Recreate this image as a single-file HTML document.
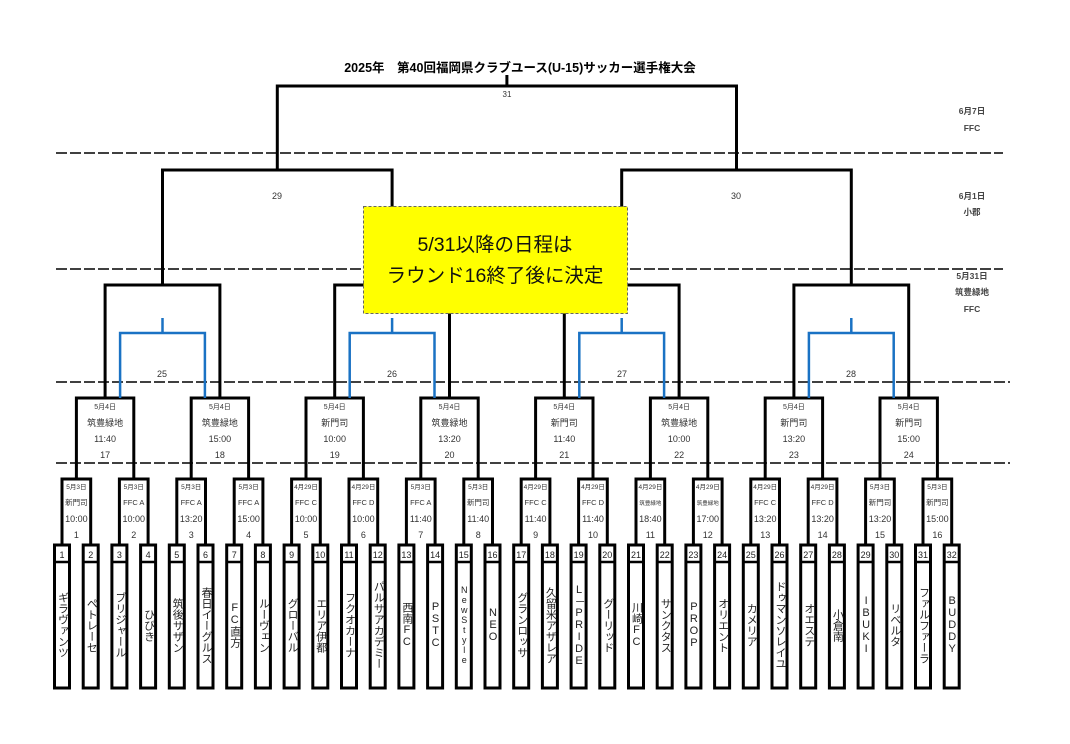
<!DOCTYPE html>
<html><head><meta charset="utf-8">
<style>
body{margin:0;background:#fff;}
#w{position:relative;width:1070px;height:744px;overflow:hidden;font-family:"Liberation Sans","Noto Sans CJK JP",sans-serif;}
svg{position:absolute;left:0;top:0;}
.n{position:absolute;top:564px;width:15px;height:122px;display:flex;flex-direction:column;justify-content:center;align-items:center;overflow:hidden;}
.n span{writing-mode:vertical-rl;text-orientation:upright;font-size:11px;line-height:15px;color:#222;white-space:nowrap;}
</style></head><body><div id="w">
<svg width="1070" height="744" font-family="Liberation Sans, Noto Sans CJK JP, sans-serif">
<g stroke="#000" stroke-width="1.6" stroke-dasharray="11 3">
<line x1="56" y1="153" x2="1003" y2="153"/>
<line x1="56" y1="269" x2="1003" y2="269"/>
<line x1="56" y1="382" x2="1010" y2="382"/>
<line x1="56" y1="463" x2="1010" y2="463"/>
</g>
<text x="520" y="72" font-size="12.5" font-weight="bold" text-anchor="middle">2025年　第40回福岡県クラブユース(U-15)サッカー選手権大会</text>
<g fill="none" stroke="#000" stroke-width="3">
<path d="M506.9 75V86"/>
<path d="M277.3 170V86H736.5V170"/>
<path d="M162.5 285V170H392.1V285"/>
<path d="M621.7 285V170H851.3V285"/>
<path d="M105.1 398V285H219.9V398"/>
<path d="M334.7 398V285H449.5V398"/>
<path d="M564.3 398V285H679.1V398"/>
<path d="M793.9 398V285H908.7V398"/>
<path d="M76.4 479V398H133.8V479"/>
<path d="M191.2 479V398H248.6V479"/>
<path d="M306.0 479V398H363.4V479"/>
<path d="M420.8 479V398H478.2V479"/>
<path d="M535.6 479V398H593.0V479"/>
<path d="M650.4 479V398H707.8V479"/>
<path d="M765.2 479V398H822.6V479"/>
<path d="M880.0 479V398H937.4V479"/>
<path d="M62 545V479H90.7V545"/>
<path d="M119.4 545V479H148.1V545"/>
<path d="M176.8 545V479H205.5V545"/>
<path d="M234.2 545V479H262.9V545"/>
<path d="M291.6 545V479H320.3V545"/>
<path d="M349 545V479H377.7V545"/>
<path d="M406.4 545V479H435.1V545"/>
<path d="M463.8 545V479H492.5V545"/>
<path d="M521.2 545V479H549.9V545"/>
<path d="M578.6 545V479H607.3V545"/>
<path d="M636 545V479H664.7V545"/>
<path d="M693.4 545V479H722.1V545"/>
<path d="M750.8 545V479H779.5V545"/>
<path d="M808.2 545V479H836.9V545"/>
<path d="M865.6 545V479H894.3V545"/>
<path d="M923 545V479H951.7V545"/>
</g>
<g fill="none" stroke="#1a72c4" stroke-width="2.5">
<path d="M120.1 398V333H204.9V398M162.5 318V333"/>
<path d="M349.7 398V333H434.5V398M392.1 318V333"/>
<path d="M579.3 398V333H664.1V398M621.7 318V333"/>
<path d="M808.9 398V333H893.7V398M851.3 318V333"/>
</g>
<g fill="#fff" stroke="#000" stroke-width="3">
<rect x="54.5" y="545" width="15" height="143"/><rect x="83.2" y="545" width="15" height="143"/><rect x="111.9" y="545" width="15" height="143"/><rect x="140.6" y="545" width="15" height="143"/><rect x="169.3" y="545" width="15" height="143"/><rect x="198" y="545" width="15" height="143"/><rect x="226.7" y="545" width="15" height="143"/><rect x="255.4" y="545" width="15" height="143"/><rect x="284.1" y="545" width="15" height="143"/><rect x="312.8" y="545" width="15" height="143"/><rect x="341.5" y="545" width="15" height="143"/><rect x="370.2" y="545" width="15" height="143"/><rect x="398.9" y="545" width="15" height="143"/><rect x="427.6" y="545" width="15" height="143"/><rect x="456.3" y="545" width="15" height="143"/><rect x="485" y="545" width="15" height="143"/><rect x="513.7" y="545" width="15" height="143"/><rect x="542.4" y="545" width="15" height="143"/><rect x="571.1" y="545" width="15" height="143"/><rect x="599.8" y="545" width="15" height="143"/><rect x="628.5" y="545" width="15" height="143"/><rect x="657.2" y="545" width="15" height="143"/><rect x="685.9" y="545" width="15" height="143"/><rect x="714.6" y="545" width="15" height="143"/><rect x="743.3" y="545" width="15" height="143"/><rect x="772" y="545" width="15" height="143"/><rect x="800.7" y="545" width="15" height="143"/><rect x="829.4" y="545" width="15" height="143"/><rect x="858.1" y="545" width="15" height="143"/><rect x="886.8" y="545" width="15" height="143"/><rect x="915.5" y="545" width="15" height="143"/><rect x="944.2" y="545" width="15" height="143"/>
</g>
<path stroke="#000" stroke-width="2.5" d="M54.5 562h15M83.2 562h15M111.9 562h15M140.6 562h15M169.3 562h15M198 562h15M226.7 562h15M255.4 562h15M284.1 562h15M312.8 562h15M341.5 562h15M370.2 562h15M398.9 562h15M427.6 562h15M456.3 562h15M485 562h15M513.7 562h15M542.4 562h15M571.1 562h15M599.8 562h15M628.5 562h15M657.2 562h15M685.9 562h15M714.6 562h15M743.3 562h15M772 562h15M800.7 562h15M829.4 562h15M858.1 562h15M886.8 562h15M915.5 562h15M944.2 562h15"/>
<g font-size="9" text-anchor="middle" fill="#222">
<text x="62" y="558">1</text><text x="90.7" y="558">2</text><text x="119.4" y="558">3</text><text x="148.1" y="558">4</text><text x="176.8" y="558">5</text><text x="205.5" y="558">6</text><text x="234.2" y="558">7</text><text x="262.9" y="558">8</text><text x="291.6" y="558">9</text><text x="320.3" y="558">10</text><text x="349" y="558">11</text><text x="377.7" y="558">12</text><text x="406.4" y="558">13</text><text x="435.1" y="558">14</text><text x="463.8" y="558">15</text><text x="492.5" y="558">16</text><text x="521.2" y="558">17</text><text x="549.9" y="558">18</text><text x="578.6" y="558">19</text><text x="607.3" y="558">20</text><text x="636" y="558">21</text><text x="664.7" y="558">22</text><text x="693.4" y="558">23</text><text x="722.1" y="558">24</text><text x="750.8" y="558">25</text><text x="779.5" y="558">26</text><text x="808.2" y="558">27</text><text x="836.9" y="558">28</text><text x="865.6" y="558">29</text><text x="894.3" y="558">30</text><text x="923" y="558">31</text><text x="951.7" y="558">32</text>
</g>
<g text-anchor="middle" fill="#333">
<g font-size="6.5">
<text x="76.4" y="489">5月3日</text><text x="133.8" y="489">5月3日</text><text x="191.2" y="489">5月3日</text><text x="248.6" y="489">5月3日</text><text x="306" y="489">4月29日</text><text x="363.4" y="489">4月29日</text><text x="420.8" y="489">5月3日</text><text x="478.2" y="489">5月3日</text><text x="535.6" y="489">4月29日</text><text x="593" y="489">4月29日</text><text x="650.4" y="489">4月29日</text><text x="707.8" y="489">4月29日</text><text x="765.2" y="489">4月29日</text><text x="822.6" y="489">4月29日</text><text x="880" y="489">5月3日</text><text x="937.4" y="489">5月3日</text>
</g>
<g font-size="7.5">
<text x="76.4" y="505">新門司</text><text x="133.8" y="505">FFC A</text><text x="191.2" y="505">FFC A</text><text x="248.6" y="505">FFC A</text><text x="306" y="505">FFC C</text><text x="363.4" y="505">FFC D</text><text x="420.8" y="505">FFC A</text><text x="478.2" y="505">新門司</text><text x="535.6" y="505">FFC C</text><text x="593" y="505">FFC D</text><text x="650.4" y="505" font-size="5.5">筑豊緑地</text><text x="707.8" y="505" font-size="5.5">筑豊緑地</text><text x="765.2" y="505">FFC C</text><text x="822.6" y="505">FFC D</text><text x="880" y="505">新門司</text><text x="937.4" y="505">新門司</text>
</g>
<g font-size="9">
<text x="76.4" y="522">10:00</text><text x="133.8" y="522">10:00</text><text x="191.2" y="522">13:20</text><text x="248.6" y="522">15:00</text><text x="306" y="522">10:00</text><text x="363.4" y="522">10:00</text><text x="420.8" y="522">11:40</text><text x="478.2" y="522">11:40</text><text x="535.6" y="522">11:40</text><text x="593" y="522">11:40</text><text x="650.4" y="522">18:40</text><text x="707.8" y="522">17:00</text><text x="765.2" y="522">13:20</text><text x="822.6" y="522">13:20</text><text x="880" y="522">13:20</text><text x="937.4" y="522">15:00</text>
<text x="76.4" y="538">1</text><text x="133.8" y="538">2</text><text x="191.2" y="538">3</text><text x="248.6" y="538">4</text><text x="306" y="538">5</text><text x="363.4" y="538">6</text><text x="420.8" y="538">7</text><text x="478.2" y="538">8</text><text x="535.6" y="538">9</text><text x="593" y="538">10</text><text x="650.4" y="538">11</text><text x="707.8" y="538">12</text><text x="765.2" y="538">13</text><text x="822.6" y="538">14</text><text x="880" y="538">15</text><text x="937.4" y="538">16</text>
</g>
<g font-size="7">
<text x="105.1" y="409">5月4日</text><text x="219.9" y="409">5月4日</text><text x="334.7" y="409">5月4日</text><text x="449.5" y="409">5月4日</text><text x="564.3" y="409">5月4日</text><text x="679.1" y="409">5月4日</text><text x="793.9" y="409">5月4日</text><text x="908.7" y="409">5月4日</text>
</g>
<g font-size="9">
<text x="105.1" y="426">筑豊緑地</text><text x="219.9" y="426">筑豊緑地</text><text x="334.7" y="426">新門司</text><text x="449.5" y="426">筑豊緑地</text><text x="564.3" y="426">新門司</text><text x="679.1" y="426">筑豊緑地</text><text x="793.9" y="426">新門司</text><text x="908.7" y="426">新門司</text>
<text x="105.1" y="442">11:40</text><text x="219.9" y="442">15:00</text><text x="334.7" y="442">10:00</text><text x="449.5" y="442">13:20</text><text x="564.3" y="442">11:40</text><text x="679.1" y="442">10:00</text><text x="793.9" y="442">13:20</text><text x="908.7" y="442">15:00</text>
<text x="105.1" y="458">17</text><text x="219.9" y="458">18</text><text x="334.7" y="458">19</text><text x="449.5" y="458">20</text><text x="564.3" y="458">21</text><text x="679.1" y="458">22</text><text x="793.9" y="458">23</text><text x="908.7" y="458">24</text>
<text x="162" y="377">25</text><text x="392" y="377">26</text><text x="622" y="377">27</text><text x="851" y="377">28</text>
<text x="277" y="199">29</text><text x="736" y="199">30</text>
<text x="507" y="97" font-size="8">31</text>
</g>
<g font-size="8.5" font-weight="bold" fill="#444">
<text x="972" y="114">6月7日</text><text x="972" y="131">FFC</text>
<text x="972" y="199">6月1日</text><text x="972" y="215">小郡</text>
<text x="972" y="279">5月31日</text><text x="972" y="295">筑豊緑地</text><text x="972" y="312">FFC</text>
</g>
</g>
<rect x="363.5" y="206.5" width="264" height="107" fill="#ffff00" stroke="#666" stroke-width="1" stroke-dasharray="3 2"/>
<g font-size="19.5" text-anchor="middle" fill="#111">
<text x="495" y="251">5/31以降の日程は</text>
<text x="495" y="282">ラウンド16終了後に決定</text>
</g>
</svg>
<div class="n" style="left:54.5px"><span>ギラヴァンツ</span></div>
<div class="n" style="left:83.2px"><span>ペトレーセ</span></div>
<div class="n" style="left:111.9px"><span>ブリジャール</span></div>
<div class="n" style="left:140.6px"><span>ひびき</span></div>
<div class="n" style="left:169.3px"><span>筑後サザン</span></div>
<div class="n" style="left:198px"><span>春日イーグルス</span></div>
<div class="n" style="left:226.7px"><span>FC直方</span></div>
<div class="n" style="left:255.4px"><span>ルーヴェン</span></div>
<div class="n" style="left:284.1px"><span>グローバル</span></div>
<div class="n" style="left:312.8px"><span>エリア伊都</span></div>
<div class="n" style="left:341.5px"><span>フクオカーナ</span></div>
<div class="n" style="left:370.2px"><span>パルサアカデミー</span></div>
<div class="n" style="left:398.9px"><span>西南FC</span></div>
<div class="n" style="left:427.6px"><span>PSTC</span></div>
<div class="n" style="left:456.3px"><span style="font-size:9px">NewStyle</span></div>
<div class="n" style="left:485px"><span>NEO</span></div>
<div class="n" style="left:513.7px"><span>グランロッサ</span></div>
<div class="n" style="left:542.4px"><span>久留米アザレア</span></div>
<div class="n" style="left:571.1px"><span>L－PRIDE</span></div>
<div class="n" style="left:599.8px"><span>グーリッド</span></div>
<div class="n" style="left:628.5px"><span>川崎FC</span></div>
<div class="n" style="left:657.2px"><span>サンクタス</span></div>
<div class="n" style="left:685.9px"><span>PROP</span></div>
<div class="n" style="left:714.6px"><span>オリエント</span></div>
<div class="n" style="left:743.3px"><span>カメリア</span></div>
<div class="n" style="left:772px"><span>ドゥマンソレイユ</span></div>
<div class="n" style="left:800.7px"><span>オエステ</span></div>
<div class="n" style="left:829.4px"><span>小倉南</span></div>
<div class="n" style="left:858.1px"><span>IBUKI</span></div>
<div class="n" style="left:886.8px"><span>リベルタ</span></div>
<div class="n" style="left:915.5px"><span>ファルファーラ</span></div>
<div class="n" style="left:944.2px"><span>BUDDY</span></div>
</div></body></html>
